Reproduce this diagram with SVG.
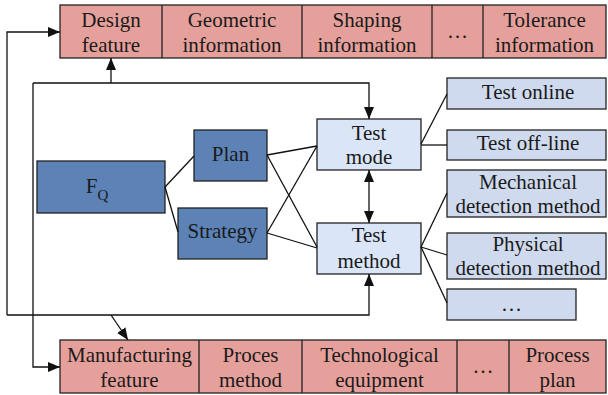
<svg xmlns="http://www.w3.org/2000/svg" width="608" height="395" viewBox="0 0 608 395">
<style>
.pink{fill:#e6a09b;stroke:#222;stroke-width:1.3}
.dark{fill:#5c82b6;stroke:#222;stroke-width:1.3}
.lt{fill:#dae6f8;stroke:#222;stroke-width:1.3}
.rb{fill:#cfdaee;stroke:#222;stroke-width:1.3}
.dv{stroke:#222;stroke-width:1.3}
text{font-family:"Liberation Serif","DejaVu Serif",serif;font-size:21px;fill:#1a1a1a;text-anchor:middle}
.c path,.c line{fill:none;stroke:#111;stroke-width:1.3}
</style>
<defs>
<marker id="ar" markerUnits="userSpaceOnUse" markerWidth="13" markerHeight="11" refX="12" refY="5" orient="auto-start-reverse" viewBox="0 0 13 11">
<path d="M0,0 L12,5 L0,10 z" fill="#111"/>
</marker>
</defs>

<g id="top-bar">
<rect class="pink" x="60" y="5" width="546" height="53"/>
<line class="dv" x1="162" y1="5" x2="162" y2="58"/>
<line class="dv" x1="302" y1="5" x2="302" y2="58"/>
<line class="dv" x1="432" y1="5" x2="432" y2="58"/>
<line class="dv" x1="483" y1="5" x2="483" y2="58"/>
</g>
<g id="design-feature"><text x="111" y="27">Design</text><text x="111" y="52">feature</text></g>
<g id="geometric-information"><text x="232" y="27">Geometric</text><text x="232" y="52">information</text></g>
<g id="shaping-information"><text x="367" y="27">Shaping</text><text x="367" y="52">information</text></g>
<g id="top-ellipsis"><text x="457.5" y="38">…</text></g>
<g id="tolerance-information"><text x="544.5" y="27">Tolerance</text><text x="544.5" y="52">information</text></g>

<g id="bottom-bar">
<rect class="pink" x="60" y="340" width="546" height="53"/>
<line class="dv" x1="199" y1="340" x2="199" y2="393"/>
<line class="dv" x1="302" y1="340" x2="302" y2="393"/>
<line class="dv" x1="457" y1="340" x2="457" y2="393"/>
<line class="dv" x1="509" y1="340" x2="509" y2="393"/>
</g>
<g id="manufacturing-feature"><text x="129.5" y="362">Manufacturing</text><text x="129.5" y="387">feature</text></g>
<g id="proces-method"><text x="250.5" y="362">Proces</text><text x="250.5" y="387">method</text></g>
<g id="technological-equipment"><text x="379.5" y="362">Technological</text><text x="379.5" y="387">equipment</text></g>
<g id="bottom-ellipsis"><text x="483" y="373">…</text></g>
<g id="process-plan"><text x="557.5" y="362">Process</text><text x="557.5" y="387">plan</text></g>

<g id="fq"><rect class="dark" x="37" y="161" width="128" height="52"/><text x="97" y="193">F<tspan font-size="15" dy="7">Q</tspan></text></g>
<g id="plan"><rect class="dark" x="194" y="130" width="73" height="51"/><text x="230.5" y="161">Plan</text></g>
<g id="strategy"><rect class="dark" x="178" y="208" width="89" height="51"/><text x="222.5" y="238">Strategy</text></g>

<g id="test-mode"><rect class="lt" x="317" y="119" width="104" height="51"/><text x="369" y="140">Test</text><text x="369" y="164">mode</text></g>
<g id="test-method"><rect class="lt" x="317" y="223" width="104" height="51"/><text x="369" y="242">Test</text><text x="369" y="268">method</text></g>

<g id="test-online"><rect class="rb" x="447" y="78" width="159" height="31"/><text x="528" y="99">Test online</text></g>
<g id="test-offline"><rect class="rb" x="447" y="130" width="159" height="30"/><text x="528" y="150">Test off-line</text></g>
<g id="mechanical"><rect class="rb" x="447" y="170" width="159" height="47"/><text x="528" y="189">Mechanical</text><text x="528" y="213">detection method</text></g>
<g id="physical"><rect class="rb" x="447" y="233" width="159" height="46"/><text x="528" y="251">Physical</text><text x="528" y="275">detection method</text></g>
<g id="method-ellipsis"><rect class="rb" x="447" y="289" width="129" height="31"/><text x="511.5" y="311">…</text></g>

<g id="connectors" class="c">
<path d="M165,187 L194,156"/>
<path d="M165,187 L178,232"/>
<path d="M267,155 L317,146"/>
<path d="M267,155 L317,247"/>
<path d="M267,233 L317,146"/>
<path d="M267,233 L317,248"/>
<path d="M421,144 L447,94"/>
<path d="M421,145 L447,145"/>
<path d="M421,247 L447,193"/>
<path d="M421,247 L447,255"/>
<path d="M421,247 L447,303"/>
<path d="M369,170 L369,223" marker-start="url(#ar)" marker-end="url(#ar)"/>
<path d="M7,315 L7,32 L60,32" marker-end="url(#ar)"/>
<path d="M7,315 L369,315 L369,274" marker-end="url(#ar)"/>
<path d="M111,315 L128,340" marker-end="url(#ar)"/>
<path d="M33,83 L33,367 L60,367" marker-end="url(#ar)"/>
<path d="M33,83 L369,83 L369,119" marker-end="url(#ar)"/>
<path d="M111,83 L111,58" marker-end="url(#ar)"/>
</g>
</svg>
